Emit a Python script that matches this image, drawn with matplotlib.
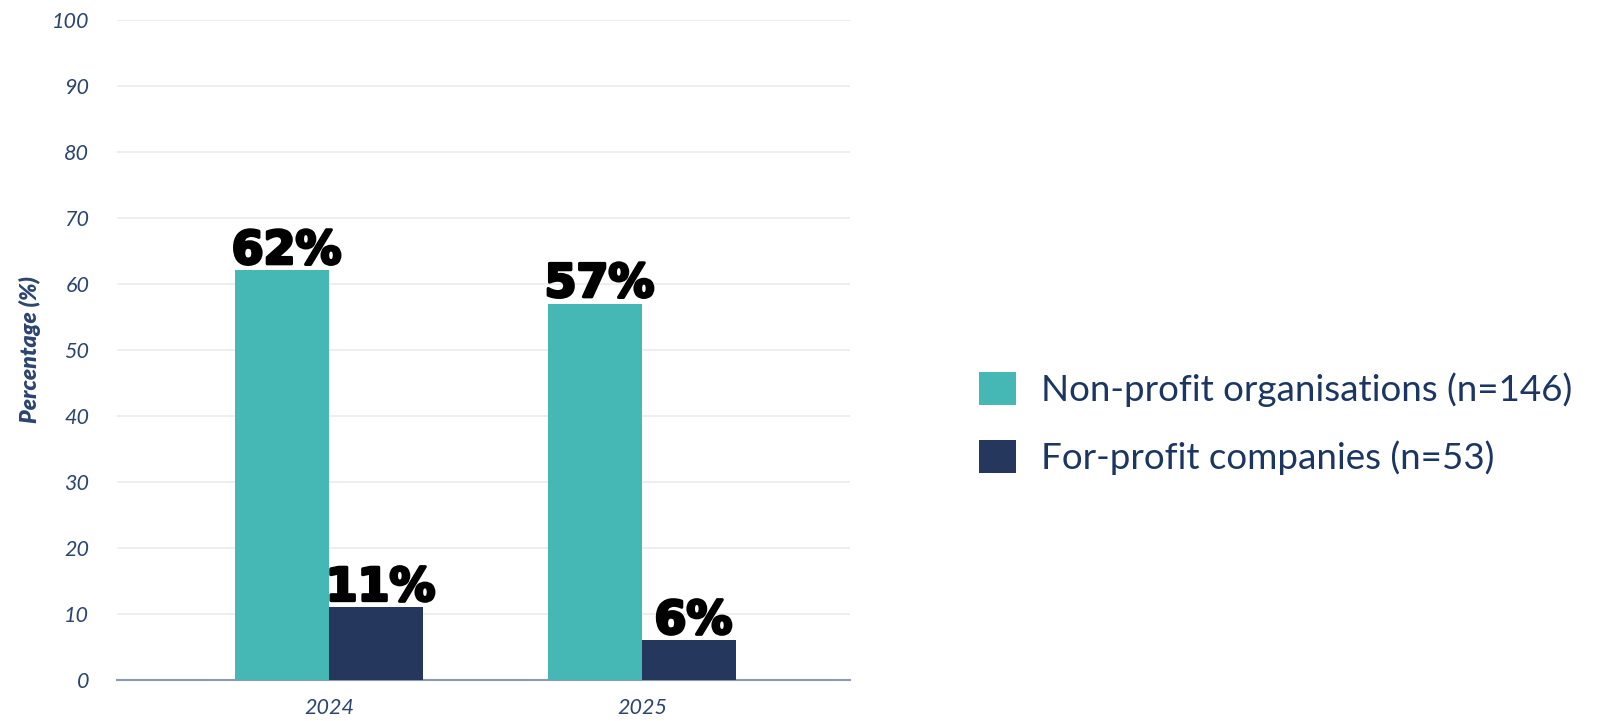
import matplotlib.pyplot as plt
import matplotlib.patheffects as pe
import numpy as np

# datos
years = ['2024', '2025']
nonprofit = [62, 57]
forprofit = [11, 6]
series_names = ['Non-profit organisations (n=146)', 'For-profit companies (n=53)']
yticks = [0, 10, 20, 30, 40, 50, 60, 70, 80, 90, 100]

teal = '#45b7b4'
navy = '#25375c'
tickcol = '#2b4470'

fig = plt.figure(figsize=(16.09, 7.21), dpi=100)
ax = fig.add_axes([117/1609, 1-680/721, 733/1609, (680-19.5)/721])

x = np.arange(len(years))
w = 0.30
b1 = ax.bar(x - w/2, nonprofit, w, color=teal, zorder=3)
b2 = ax.bar(x + w/2, forprofit, w, color=navy, zorder=3)

# etiquetas de las barras
for bars, vals in [(b1, nonprofit), (b2, forprofit)]:
    for r, v in zip(bars, vals):
        ax.text(r.get_x() + r.get_width()/2 + 0.015, v - 0.5, f'{v}%',
                ha='center', va='bottom', fontsize=33, fontweight='bold',
                family='DejaVu Sans', color='black', zorder=4,
                path_effects=[pe.withStroke(linewidth=2.2, foreground='black')])

ax.set_xlim(-0.677, 1.665)
ax.set_ylim(0, 100)
ax.set_yticks(yticks)
ax.set_xticks(x)
ax.set_xticklabels(years)
ax.grid(axis='y', color='#ebebeb', linewidth=1.2, zorder=0)
for s in ['top', 'right', 'left']:
    ax.spines[s].set_visible(False)
ax.spines['bottom'].set_color('#8a98b0')
ax.spines['bottom'].set_linewidth(1.5)
ax.tick_params(length=0)
ax.tick_params(axis='y', pad=20)
ax.tick_params(axis='x', pad=13)
for t in ax.get_yticklabels() + ax.get_xticklabels():
    t.set_family('Lato')
    t.set_style('italic')
    t.set_fontsize(15.5)
    t.set_color(tickcol)
ax.set_ylabel('Percentage (%)', family='Lato', style='italic', fontweight='heavy',
              fontsize=16.5, color=tickcol)
ax.yaxis.set_label_coords(-0.104, 0.5)

# leyenda
leg = fig.legend([b1, b2], series_names, loc='center left',
                 bbox_to_anchor=(946/1609, 1-423.5/721), frameon=False,
                 prop={'family': 'Lato', 'size': 26.5},
                 handlelength=1.0, handleheight=1.0, handletextpad=0.67,
                 labelspacing=0.9)
for t in leg.get_texts():
    t.set_color('#1c3664')

fig.savefig('out.png', dpi=100)
